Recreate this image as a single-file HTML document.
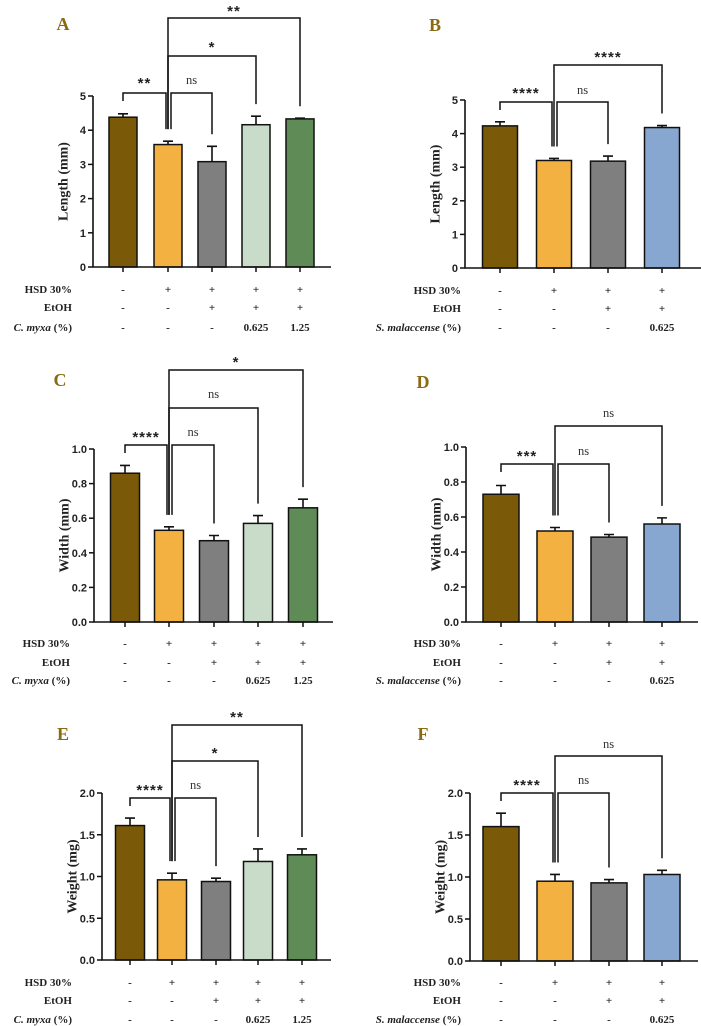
<!DOCTYPE html>
<html><head><meta charset="utf-8">
<style>
html,body{margin:0;padding:0;background:#fff;}
svg{display:block;}
.tick{font-family:"Liberation Sans",sans-serif;font-weight:bold;font-size:11px;fill:#222;}
.ytitle{font-family:"Liberation Serif",serif;font-weight:bold;font-size:14px;fill:#222;}
.tbl{font-family:"Liberation Serif",serif;font-weight:bold;font-size:11px;fill:#222;}
.sig{font-family:"Liberation Sans",sans-serif;font-weight:bold;font-size:15px;fill:#222;}
.ns{font-family:"Liberation Serif",serif;font-size:12.5px;fill:#333;}
.plabel{font-family:"Liberation Serif",serif;font-weight:bold;font-size:18px;fill:#8a6a12;}
</style></head>
<body>
<svg id="fig" width="701" height="1026" viewBox="0 0 701 1026"></svg>
<script>
// ---- data ----
const aValues=[4.38,3.58,3.08,4.16,4.33];
const aErrors=[0.10,0.10,0.45,0.25,0.02];
const bValues=[4.23,3.20,3.18,4.18];
const bErrors=[0.12,0.06,0.15,0.06];
const cValues=[0.86,0.53,0.47,0.57,0.66];
const cErrors=[0.045,0.02,0.03,0.045,0.05];
const dValues=[0.73,0.52,0.485,0.56];
const dErrors=[0.05,0.02,0.015,0.035];
const eValues=[1.61,0.96,0.94,1.18,1.26];
const eErrors=[0.09,0.08,0.04,0.15,0.07];
const fValues=[1.60,0.95,0.93,1.03];
const fErrors=[0.16,0.08,0.04,0.05];
const lengthTicks=[0,1,2,3,4,5];
const widthTicks=[0,0.2,0.4,0.6,0.8,1.0];
const weightTicks=[0,0.5,1.0,1.5,2.0];
const hsdRow5=['-','+','+','+','+'];
const etohRow5=['-','-','+','+','+'];
const cmyxaRow=['-','-','-','0.625','1.25'];
const hsdRow4=['-','+','+','+'];
const etohRow4=['-','-','+','+'];
const smalRow=['-','-','-','0.625'];
const colors5=['#7a5a08','#f2b140','#7f7f7f','#c9dcc9','#5f8b56'];
const colors4=['#7a5a08','#f2b140','#7f7f7f','#87a7d0'];

const NS='http://www.w3.org/2000/svg';
const svg=document.getElementById('fig');
function mk(tag,attrs,parent,text){const e=document.createElementNS(NS,tag);for(const k in attrs)e.setAttribute(k,attrs[k]);if(text!==undefined)e.textContent=text;(parent||svg).appendChild(e);return e;}

const panels=[
 {id:'a',letter:'A',lx:63,ly:30,values:aValues,errors:aErrors,ticks:lengthTicks,dec:0,max:5,axisX:93,y0:267,yTop:96,centers:[123,168,212,256,300],bw:28,axisEnd:331,tableY:[289,307,327],labelEnd:72,
  rows:[['HSD 30%',hsdRow5,false],['EtOH',etohRow5,false],['C. myxa',cmyxaRow,true]],colors:colors5,title:'Length (mm)',
  brackets:[[0,1,93,'**',78],[1,2,93,'ns',80],[1,3,56,'*',42],[1,4,18,'**',6]]},
 {id:'b',letter:'B',lx:435,ly:31,values:bValues,errors:bErrors,ticks:lengthTicks,dec:0,max:5,axisX:465,y0:268,yTop:100,centers:[500,554,608,662],bw:35,axisEnd:702,tableY:[290,308,327],labelEnd:461,
  rows:[['HSD 30%',hsdRow4,false],['EtOH',etohRow4,false],['S. malaccense',smalRow,true]],colors:colors4,title:'Length (mm)',
  brackets:[[0,1,102,'****',88],[1,2,102,'ns',90],[1,3,65,'****',52]]},
 {id:'c',letter:'C',lx:60,ly:386,values:cValues,errors:cErrors,ticks:widthTicks,dec:1,max:1.0,axisX:94,y0:622,yTop:449,centers:[125,169,214,258,303],bw:29,axisEnd:333,tableY:[643,662,680],labelEnd:70,
  rows:[['HSD 30%',hsdRow5,false],['EtOH',etohRow5,false],['C. myxa',cmyxaRow,true]],colors:colors5,title:'Width (mm)',
  brackets:[[0,1,445,'****',432],[1,2,445,'ns',432],[1,3,408,'ns',394],[1,4,370,'*',357]]},
 {id:'d',letter:'D',lx:423,ly:388,values:dValues,errors:dErrors,ticks:widthTicks,dec:1,max:1.0,axisX:466,y0:622,yTop:447,centers:[501,555,609,662],bw:36,axisEnd:698,tableY:[643,662,680],labelEnd:461,
  rows:[['HSD 30%',hsdRow4,false],['EtOH',etohRow4,false],['S. malaccense',smalRow,true]],colors:colors4,title:'Width (mm)',
  brackets:[[0,1,464,'***',451],[1,2,464,'ns',451],[1,3,426,'ns',413]]},
 {id:'e',letter:'E',lx:63,ly:740,values:eValues,errors:eErrors,ticks:weightTicks,dec:1,max:2.0,axisX:102,y0:960,yTop:793,centers:[130,172,216,258,302],bw:29,axisEnd:331,tableY:[982,1000,1019],labelEnd:72,
  rows:[['HSD 30%',hsdRow5,false],['EtOH',etohRow5,false],['C. myxa',cmyxaRow,true]],colors:colors5,title:'Weight (mg)',
  brackets:[[0,1,798,'****',785],[1,2,798,'ns',785],[1,3,761,'*',748],[1,4,725,'**',712]]},
 {id:'f',letter:'F',lx:423,ly:740,values:fValues,errors:fErrors,ticks:weightTicks,dec:1,max:2.0,axisX:470,y0:961,yTop:793,centers:[501,555,609,662],bw:36,axisEnd:698,tableY:[982,1000,1019],labelEnd:461,
  rows:[['HSD 30%',hsdRow4,false],['EtOH',etohRow4,false],['S. malaccense',smalRow,true]],colors:colors4,title:'Weight (mg)',
  brackets:[[0,1,793,'****',780],[1,2,793,'ns',780],[1,3,756,'ns',744]]}
];

panels.forEach(p=>{
  const g=mk('g',{});
  
  
  const y=v=>p.y0-(v/p.max)*(p.y0-p.yTop);
  const lbl=mk('text',{x:p.lx,y:p.ly,'class':'plabel','text-anchor':'middle'},g,p.letter);
  
  
  p.values.forEach((v,i)=>{
    const cx=p.centers[i];
    const top=y(v), et=y(v+p.errors[i]);
    const eb=mk('path',{d:`M${cx} ${top}V${et}M${cx-5} ${et}H${cx+5}`,stroke:'#111','stroke-width':1.6,fill:'none'},g);
    
    
    const r=mk('rect',{x:cx-p.bw/2,y:top,width:p.bw,height:p.y0-top,fill:p.colors[i],stroke:'#111','stroke-width':1.5},g);
    
    
    const tk=mk('line',{x1:cx,x2:cx,y1:p.y0,y2:p.y0+5,stroke:'#111','stroke-width':1.5},g);
    
    
  });
  const ax=mk('path',{d:`M${p.axisX} ${p.yTop}V${p.y0}H${p.axisEnd}`,stroke:'#111','stroke-width':1.6,fill:'none'},g);
  
  
  p.ticks.forEach(t=>{
    const ty=y(t);
    const l=mk('line',{x1:p.axisX-5,x2:p.axisX,y1:ty,y2:ty,stroke:'#111','stroke-width':1.5},g);
    
    
    const tt=mk('text',{x:p.axisX-7,y:ty+4,'class':'tick','text-anchor':'end'},g,t.toFixed(p.dec));
    
    
  });
  const midY=(p.y0+p.yTop)/2;
  const yt=mk('text',{x:p.axisX-29,y:midY,'class':'ytitle','text-anchor':'middle',transform:`rotate(-90 ${p.axisX-29} ${midY})`,'dominant-baseline':'central'},g,p.title);
  
  
  p.brackets.forEach((b,k)=>{
    const x1=p.centers[b[0]]+(k===1?3:0), x2=p.centers[b[1]]-(k===0?2:0);
    const e1=y(p.values[b[0]]+p.errors[b[0]])-12, e2=y(p.values[b[1]]+p.errors[b[1]])-12;
    const l1=b[0]===0?b[2]+8:e1;
    const pa=mk('path',{d:`M${x1} ${l1}V${b[2]}H${x2}V${e2}`,stroke:'#111','stroke-width':1.5,fill:'none'},g);
    
    
    const isNs=b[3]==='ns';
    const st=mk('text',{x:(x1+x2)/2,y:b[4]+(isNs?4:10),'class':isNs?'ns':'sig','text-anchor':'middle','letter-spacing':isNs?0:1},g,b[3]);
    
    
  });
  p.rows.forEach((row,ri)=>{
    const ty=p.tableY[ri]+4;
    const rl=mk('text',{x:p.labelEnd,y:ty,'class':'tbl','text-anchor':'end'},g);
    
    
    if(row[2]){mk('tspan',{'font-style':'italic'},rl,row[0]);mk('tspan',{},rl,' (%)');}
    else rl.textContent=row[0];
    row[1].forEach((s,i)=>{
      const c=mk('text',{x:p.centers[i],y:ty,'class':'tbl','text-anchor':'middle'},g,s);
      
      
    });
  });
});
</script>
</body></html>
